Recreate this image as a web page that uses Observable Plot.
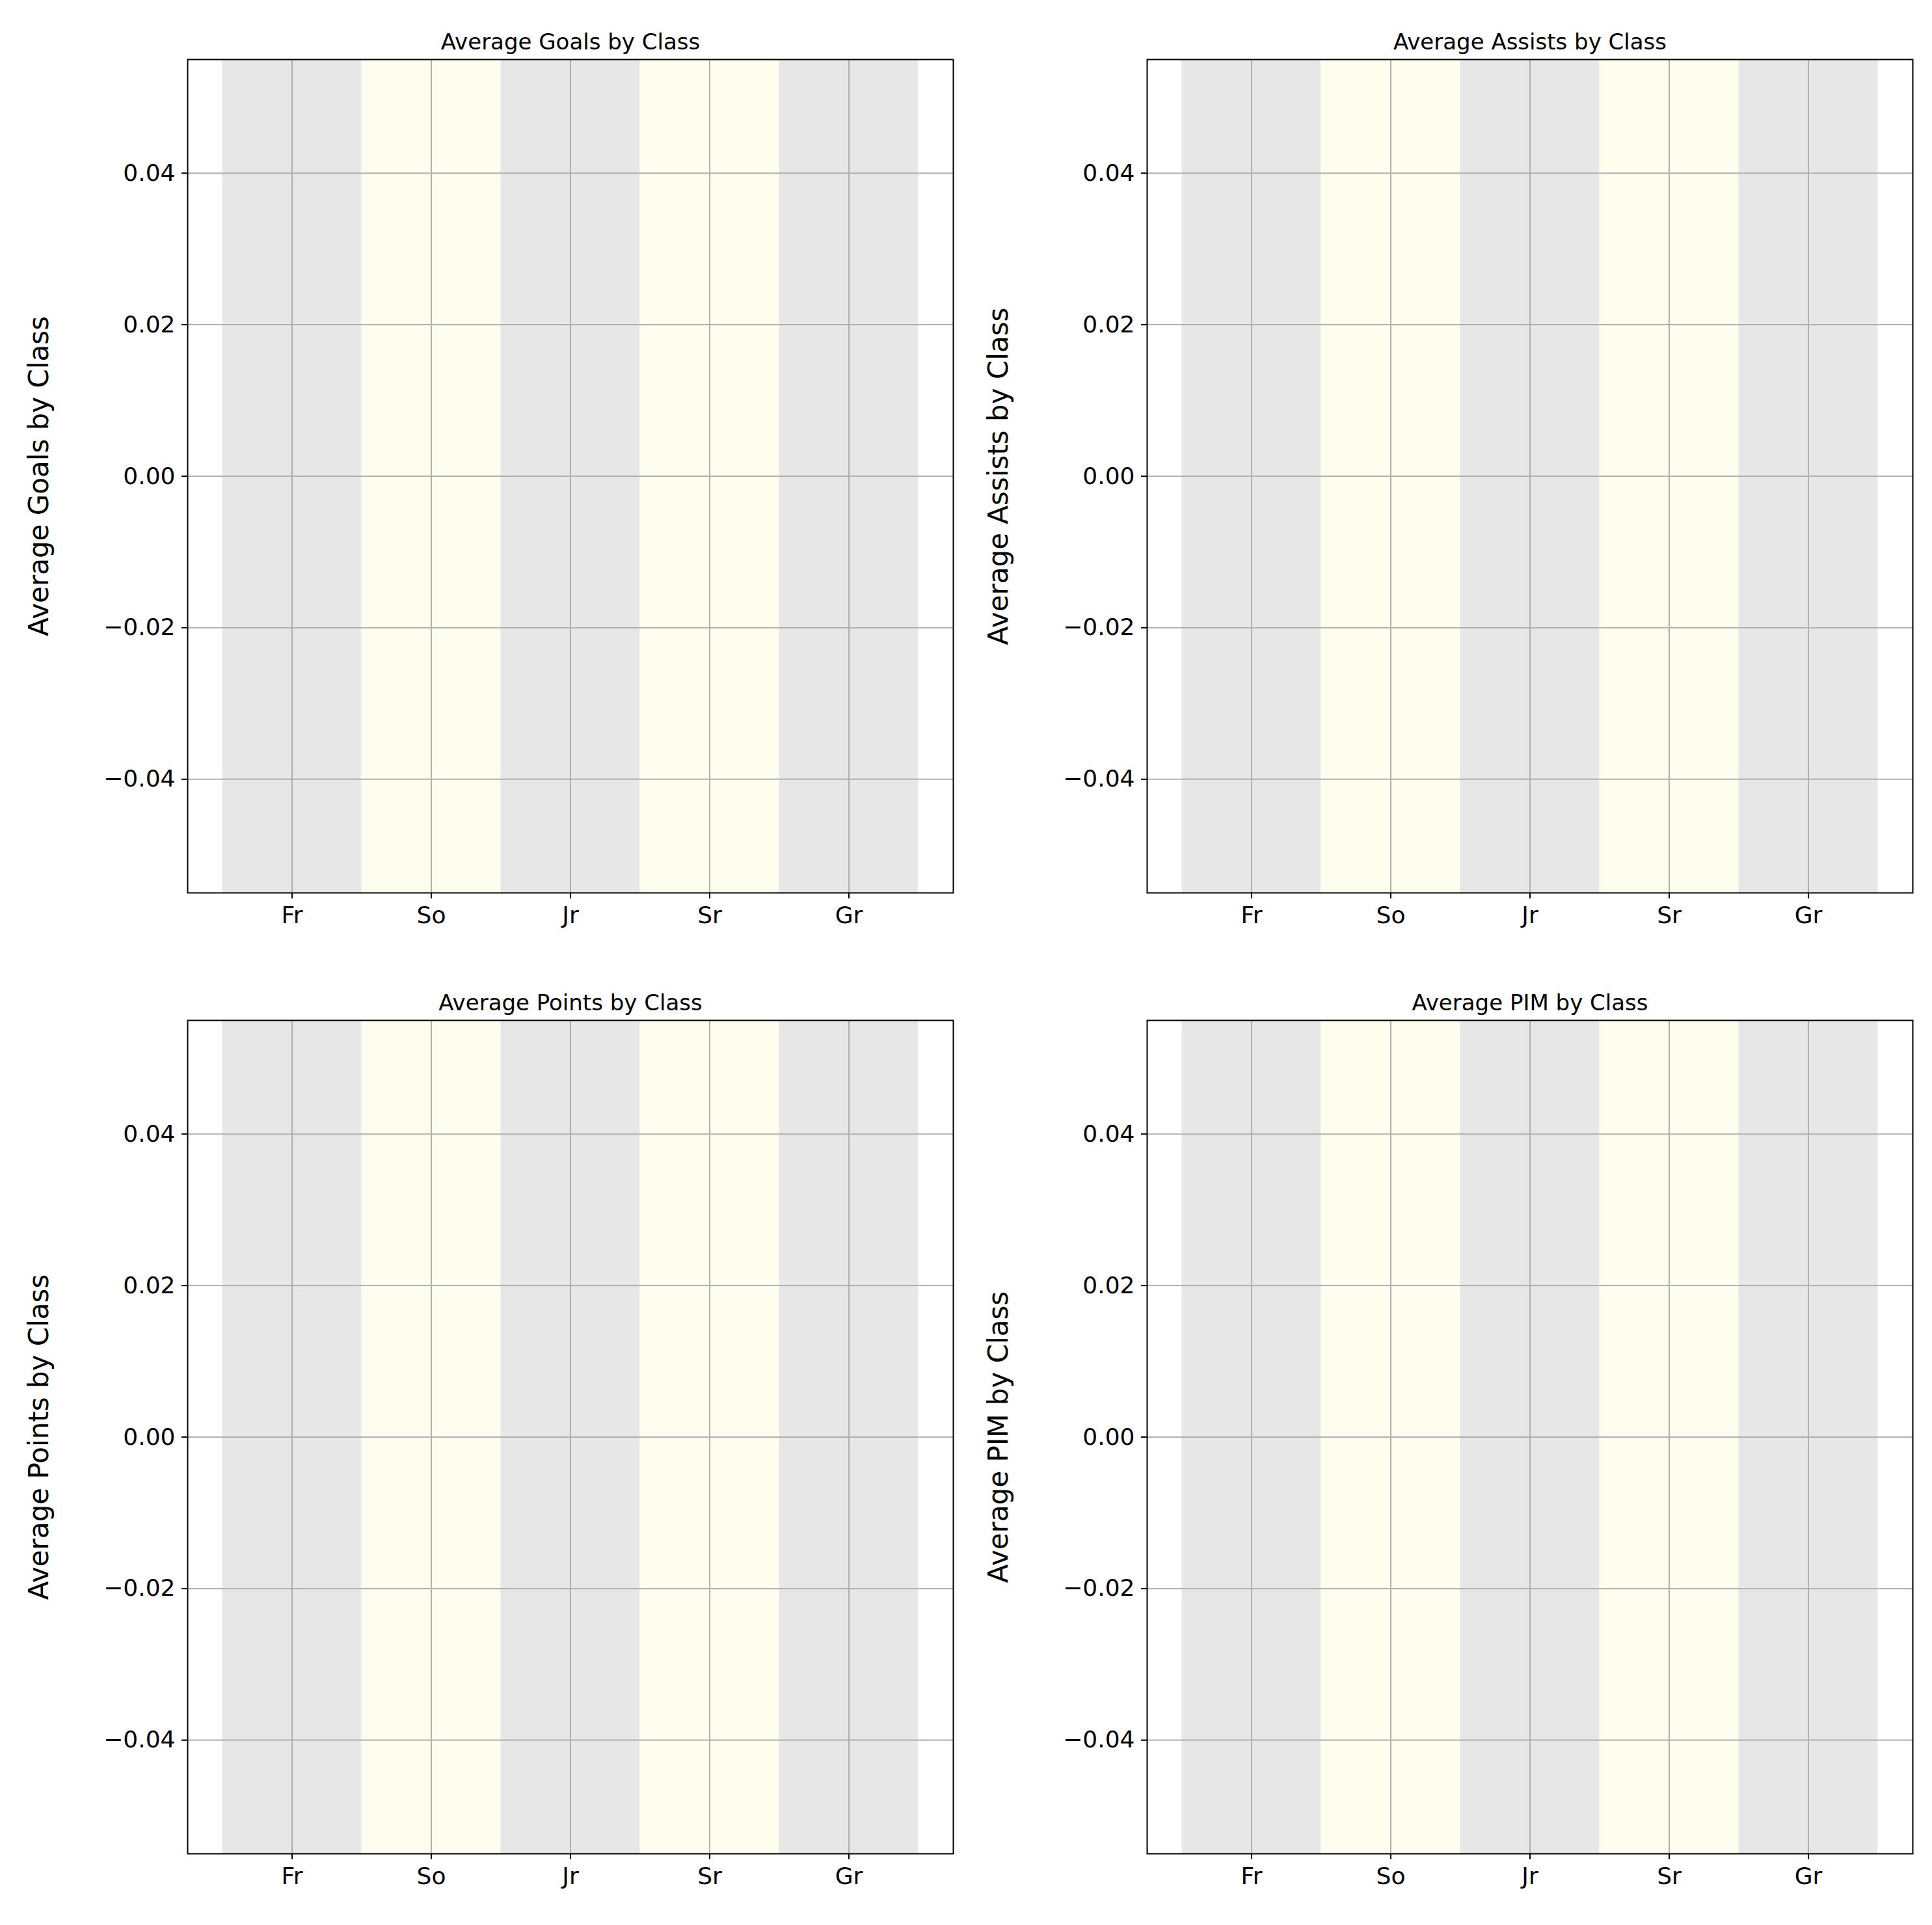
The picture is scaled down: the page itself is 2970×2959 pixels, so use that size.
<!DOCTYPE html>
<html><head><meta charset="utf-8">
<script src="https://cdn.jsdelivr.net/npm/d3@7"></script>
<script src="https://cdn.jsdelivr.net/npm/@observablehq/plot@0.6"></script>
<style>body{margin:0;background:#fff;font-family:"DejaVu Sans",sans-serif}#wrap{position:relative;width:2970px;height:2959px}.p{position:absolute}</style>
</head><body><div id="wrap"></div>
<script>
const classes = ["Fr", "So", "Jr", "Sr", "Gr"]
const bandColors = ["#e7e7e7", "#fdfeee", "#e7e7e7", "#fdfeee", "#e7e7e7"]
const avgGoals = [0, 0, 0, 0, 0]
const avgAssists = [0, 0, 0, 0, 0]
const avgPoints = [0, 0, 0, 0, 0]
const avgPIM = [0, 0, 0, 0, 0]
const yTicks = [-0.04, -0.02, 0, 0.02, 0.04]

const panels = [
  {title: "Average Goals by Class", vals: avgGoals, left: 0, top: 0},
  {title: "Average Assists by Class", vals: avgAssists, left: 1475, top: 0},
  {title: "Average Points by Class", vals: avgPoints, left: 0, top: 1477},
  {title: "Average PIM by Class", vals: avgPIM, left: 1475, top: 1477}
]

panels.forEach(p => {
  const data = classes.map((c, i) => ({i, c, v: p.vals[i], color: bandColors[i]}))
  const chart = Plot.plot({
    width: 1475, height: 1478,
    marginLeft: 288, marginRight: 10, marginTop: 91, marginBottom: 106,
    style: {fontFamily: "DejaVu Sans", fontSize: "36px", color: "#000"},
    x: {domain: [-0.75, 4.75]},
    y: {domain: [-0.055, 0.055]},
    marks: [
      // background bands per class
      Plot.rectY(data, {x1: d => d.i - 0.5, x2: d => d.i + 0.5, y1: -0.055, y2: 0.055, fill: "color"}),
      Plot.gridX(classes.map((c, i) => i), {stroke: "#b0b0b0", strokeOpacity: 1, strokeWidth: 2}),
      Plot.gridY(yTicks, {stroke: "#b0b0b0", strokeOpacity: 1, strokeWidth: 2}),
      Plot.rectY(data, {x1: d => d.i - 0.5, x2: d => d.i + 0.5, y: "v", fill: "steelblue"}),
      Plot.axisX(classes.map((c, i) => i), {tickFormat: i => classes[i], tickSize: 9, tickPadding: 12, label: null, fontSize: 36, strokeWidth: 2}),
      Plot.axisY(yTicks, {tickFormat: d => d3.format(".2f")(d).replace("-", "\u2212"), tickSize: 9, tickPadding: 10, label: null, fontSize: 36, strokeWidth: 2}),
      Plot.frame({stroke: "#000", strokeWidth: 2}),
      Plot.text([p.title], {frameAnchor: "top", dy: -40, fontSize: 34, fill: "#000"}),
      Plot.text([p.title], {frameAnchor: "left", dx: -228, rotate: -90, textAnchor: "middle", fontSize: 42, fill: "#000"})
    ]
  })
  const div = d3.select("#wrap").append("div").attr("class", "p")
    .style("left", p.left + "px").style("top", p.top + "px")
  div.append(() => chart)
})
</script></body></html>
